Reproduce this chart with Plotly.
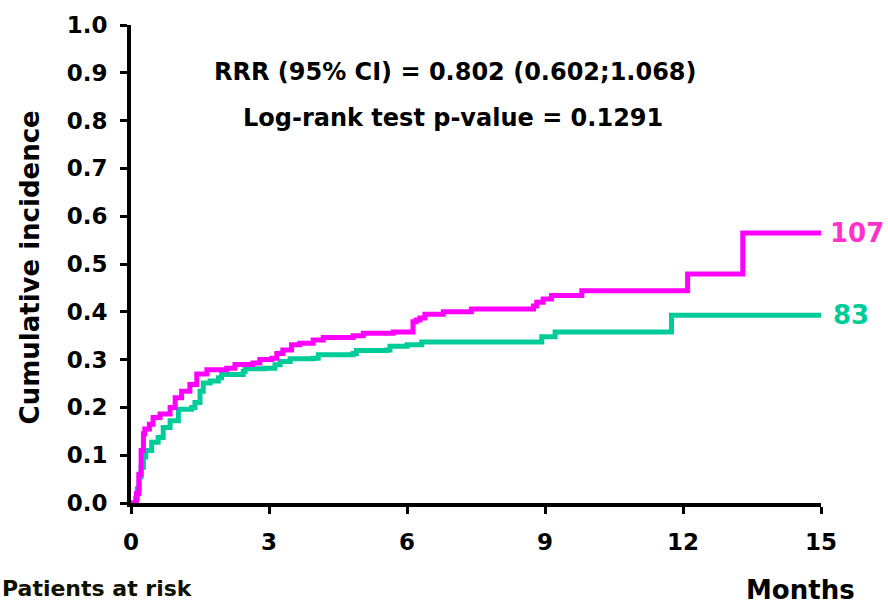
import plotly.graph_objects as go

# Pink group (107)
t_pink = [0, 0.12, 0.17, 0.22, 0.27, 0.3, 0.4, 0.48, 0.63, 0.85, 0.96, 1.1, 1.28, 1.43, 1.65,
          2.08, 2.26, 2.65, 2.8, 3.06, 3.17, 3.3, 3.49, 3.67, 3.96, 4.18, 4.83, 5.05, 5.7,
          6.13, 6.2, 6.28, 6.39, 6.79, 7.4, 8.75, 8.82, 8.96, 9.14, 9.8, 12.1, 13.3, 15]
v_pink = [0, 0.02, 0.06, 0.11, 0.145, 0.155, 0.165, 0.179, 0.186, 0.2, 0.22, 0.234, 0.248, 0.27, 0.279,
          0.282, 0.29, 0.293, 0.30, 0.303, 0.313, 0.32, 0.331, 0.334, 0.341, 0.346, 0.35, 0.355, 0.358,
          0.379, 0.383, 0.387, 0.395, 0.40, 0.406, 0.412, 0.42, 0.427, 0.434, 0.444, 0.479, 0.565, 0.565]

# Green group (83)
t_green = [0, 0.1, 0.14, 0.18, 0.22, 0.27, 0.32, 0.45, 0.59, 0.7, 0.85, 1.03, 1.32, 1.39, 1.5, 1.57,
           1.72, 1.9, 1.97, 2.44, 2.48, 2.91, 3.13, 3.24, 3.46, 3.96, 4.07, 4.83, 4.9, 5.56, 5.63,
           6.0, 6.32, 8.93, 9.22, 11.75, 15]
v_green = [0, 0.01, 0.03, 0.055, 0.075, 0.096, 0.11, 0.127, 0.137, 0.158, 0.172, 0.196, 0.2, 0.21, 0.234, 0.251,
           0.255, 0.262, 0.269, 0.275, 0.281, 0.282, 0.289, 0.296, 0.302, 0.303, 0.31, 0.313, 0.319, 0.32, 0.328,
           0.331, 0.337, 0.348, 0.358, 0.393, 0.393]

x_ticks = [0, 3, 6, 9, 12, 15]
y_ticks = [0.0, 0.1, 0.2, 0.3, 0.4, 0.5, 0.6, 0.7, 0.8, 0.9, 1.0]
y_ticklabels = [f"{v:.1f}" for v in y_ticks]

PINK = "#FF00FF"
GREEN = "#00CC99"
FONT = "DejaVu Sans"

fig = go.Figure()
fig.add_trace(go.Scatter(x=t_green, y=v_green, mode="lines", line=dict(color=GREEN, width=5, shape="hv"),
                         showlegend=False))
fig.add_trace(go.Scatter(x=t_pink, y=v_pink, mode="lines", line=dict(color=PINK, width=5, shape="hv"),
                         showlegend=False))

fig.update_layout(
    width=888, height=604,
    margin=dict(l=131, r=67, t=20, b=101),
    plot_bgcolor="white", paper_bgcolor="white",
    font=dict(family=FONT, color="black", size=20),
    xaxis=dict(range=[0, 15], tickvals=x_ticks, ticktext=[str(v) for v in x_ticks],
               showgrid=False, zeroline=False, showline=True, linecolor="black", linewidth=4,
               ticks="outside", ticklen=7, tickwidth=3, tickcolor="black", ticklabelstandoff=8,
               tickfont=dict(family=FONT, size=23, color="black", weight="bold")),
    yaxis=dict(range=[0, 1.0], tickvals=y_ticks, ticktext=y_ticklabels,
               showgrid=False, zeroline=False, showline=True, linecolor="black", linewidth=4,
               ticks="outside", ticklen=7, tickwidth=3, tickcolor="black", ticklabelstandoff=8,
               tickfont=dict(family=FONT, size=23, color="black", weight="bold")),
)

anns = [
    dict(text="RRR (95% CI) = 0.802 (0.602;1.068)", x=0.4696, y=0.9027, size=24),
    dict(text="Log-rank test p-value = 0.1291", x=0.4667, y=0.8054, size=24),
]
for a in anns:
    fig.add_annotation(text=a["text"], x=a["x"], y=a["y"], xref="paper", yref="paper",
                       xanchor="center", yanchor="middle", showarrow=False,
                       font=dict(family=FONT, size=a["size"], color="black", weight="bold"))

fig.add_annotation(text="Cumulative incidence", x=-0.1464, y=0.4928, xref="paper", yref="paper",
                   textangle=-90, xanchor="center", yanchor="middle", showarrow=False,
                   font=dict(family=FONT, size=26, color="black", weight="bold"))
fig.add_annotation(text="Patients at risk", x=-0.1899, y=-0.178, xref="paper", yref="paper",
                   xanchor="left", yanchor="middle", showarrow=False,
                   font=dict(family=FONT, size=22, color="#111100", weight="bold"))
fig.add_annotation(text="Months", x=0.971, y=-0.182, xref="paper", yref="paper",
                   xanchor="center", yanchor="middle", showarrow=False,
                   font=dict(family=FONT, size=26, color="black", weight="bold"))
fig.add_annotation(text="107", x=15, y=v_pink[-1], xref="x", yref="y", xanchor="left", yanchor="middle",
                   xshift=7, showarrow=False,
                   font=dict(family=FONT, size=26, color="#FF33CC", weight="bold"))
fig.add_annotation(text="83", x=15, y=v_green[-1], xref="x", yref="y", xanchor="left", yanchor="middle",
                   xshift=10, showarrow=False,
                   font=dict(family=FONT, size=26, color=GREEN, weight="bold"))

fig.write_html("out.html")
